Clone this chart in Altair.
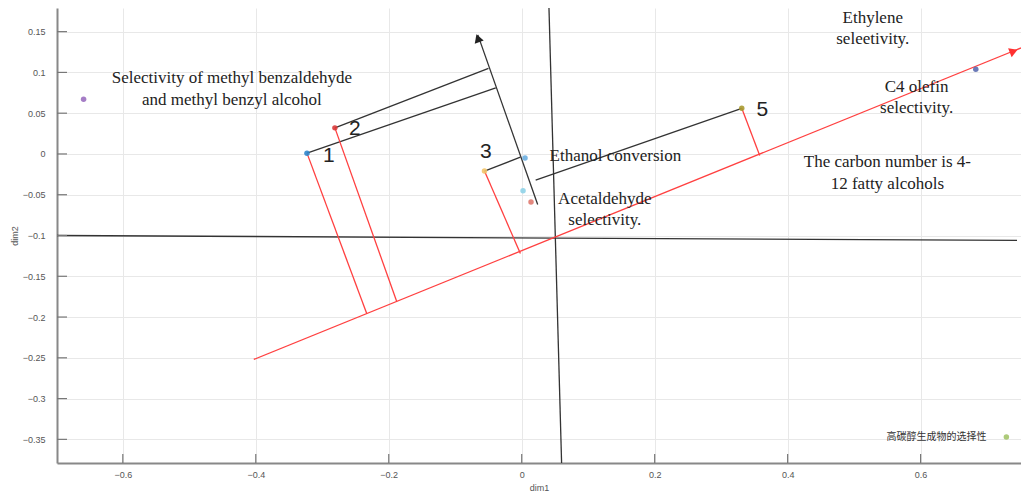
import altair as alt
import pandas as pd

# ---- scatter points (dim1, dim2) ----
pt_x = [-0.659, -0.323, -0.281, -0.056, 0.005, 0.002, 0.014, 0.331, 0.683, 0.729]
pt_y = [0.067, 0.001, 0.032, -0.021, -0.005, -0.045, -0.059, 0.056, 0.104, -0.347]
pt_color = ["#9b6fc0", "#2f86cc", "#d93a3a", "#f2c46a", "#6aaee0",
            "#8fd3e8", "#e07a70", "#a89a30", "#5b6cb0", "#a4c46a"]

# ---- black segments ----
blk_x = [-0.699, 0.041, 0.024, -0.323, -0.281, -0.056, 0.331]
blk_y = [-0.100, 0.179, -0.062, 0.001, 0.032, -0.021, 0.056]
blk_x2 = [0.745, 0.060, -0.066, -0.039, -0.050, -0.002, 0.021]
blk_y2 = [-0.106, -0.379, 0.146, 0.081, 0.105, -0.004, -0.032]

# ---- red segments ----
red_x = [-0.403, -0.323, -0.281, -0.056, 0.331]
red_y = [-0.252, 0.001, 0.032, -0.021, 0.056]
red_x2 = [0.751, -0.233, -0.188, -0.002, 0.358]
red_y2 = [0.130, -0.196, -0.181, -0.122, -0.002]

# ---- arrow heads ----
arr_x = [0.740, -0.066]
arr_y = [0.126, 0.142]
arr_angle = [68, 340]
arr_color = ["#ff3030", "#222222"]

# ---- serif annotations ----
lab_text = ["Selectivity of methyl benzaldehyde", "and methyl benzyl alcohol",
            "Ethanol conversion", "Acetaldehyde", "selectivity.",
            "Ethylene", "seleetivity.", "C4 olefin", "selectivity.",
            "The carbon number is 4-", "12 fatty alcohols"]
lab_x = [-0.436, -0.436, 0.141, 0.125, 0.125, 0.528, 0.528, 0.594, 0.594, 0.550, 0.550]
lab_y = [0.093, 0.066, -0.002, -0.055, -0.081, 0.167, 0.141, 0.082, 0.056, -0.010, -0.037]

# ---- number labels ----
num_text = ["1", "2", "3", "5"]
num_x = [-0.290, -0.251, -0.054, 0.362]
num_y = [-0.002, 0.030, 0.002, 0.054]

# ---- chinese label ----
cn_text = ["高碳醇生成物的选择性"]
cn_x = [0.624]
cn_y = [-0.347]

# ---- axis ticks ----
xticks = [-0.6, -0.4, -0.2, 0, 0.2, 0.4, 0.6]
yticks = [0.15, 0.1, 0.05, 0, -0.05, -0.1, -0.15, -0.2, -0.25, -0.3, -0.35]

XDOM = [-0.699, 0.751]
YDOM = [-0.379, 0.179]

W, H = 964, 455

xs = alt.Scale(domain=XDOM, nice=False, zero=False)
ys = alt.Scale(domain=YDOM, nice=False, zero=False)

pts = pd.DataFrame({"x": pt_x, "y": pt_y, "c": pt_color})
blk = pd.DataFrame({"x": blk_x, "y": blk_y, "x2": blk_x2, "y2": blk_y2})
red = pd.DataFrame({"x": red_x, "y": red_y, "x2": red_x2, "y2": red_y2})
arr = pd.DataFrame({"x": arr_x, "y": arr_y, "a": arr_angle, "c": arr_color})
labs = pd.DataFrame({"t": lab_text, "x": lab_x, "y": lab_y})
nums = pd.DataFrame({"t": num_text, "x": num_x, "y": num_y})
cn = pd.DataFrame({"t": cn_text, "x": cn_x, "y": cn_y})
xt = pd.DataFrame({"v": xticks})
yt = pd.DataFrame({"v": yticks})

xax = alt.Axis(values=xticks, format="~g", title="dim1", grid=True, ticks=False,
               labelPadding=7, titlePadding=4)
yax = alt.Axis(values=yticks, format="~g", title="dim2", grid=True, ticks=False,
               labelPadding=12, titlePadding=3)

base_lines = alt.Chart(blk).mark_rule(color="#333333", strokeWidth=1.3).encode(
    x=alt.X("x:Q", scale=xs, axis=xax),
    y=alt.Y("y:Q", scale=ys, axis=yax),
    x2="x2:Q", y2="y2:Q",
)

red_lines = alt.Chart(red).mark_rule(color="#ff4040", strokeWidth=1.3).encode(
    x=alt.X("x:Q", scale=xs), y=alt.Y("y:Q", scale=ys), x2="x2:Q", y2="y2:Q"
)

arrows = alt.Chart(arr).mark_point(shape="triangle-up", filled=True, opacity=1, size=90).encode(
    x=alt.X("x:Q", scale=xs), y=alt.Y("y:Q", scale=ys),
    angle=alt.Angle("a:Q", scale=None),
    color=alt.Color("c:N", scale=None),
)

points = alt.Chart(pts).mark_circle(size=30, opacity=0.9).encode(
    x=alt.X("x:Q", scale=xs), y=alt.Y("y:Q", scale=ys),
    color=alt.Color("c:N", scale=None),
)

xtk = alt.Chart(xt).mark_rule(color="#777777", strokeWidth=1.2).encode(
    x=alt.X("v:Q", scale=xs), y=alt.value(H), y2=alt.value(H - 9)
)
ytk = alt.Chart(yt).mark_rule(color="#777777", strokeWidth=1.2).encode(
    y=alt.Y("v:Q", scale=ys), x=alt.value(0), x2=alt.value(10)
)

labels = alt.Chart(labs).mark_text(font="Liberation Serif", fontSize=17, color="#222222").encode(
    x=alt.X("x:Q", scale=xs), y=alt.Y("y:Q", scale=ys), text="t:N"
)
numbers = alt.Chart(nums).mark_text(font="Liberation Sans", fontSize=21, color="#222222").encode(
    x=alt.X("x:Q", scale=xs), y=alt.Y("y:Q", scale=ys), text="t:N"
)
cnlab = alt.Chart(cn).mark_text(font="Noto Sans CJK SC", fontSize=10, color="#333333").encode(
    x=alt.X("x:Q", scale=xs), y=alt.Y("y:Q", scale=ys), text="t:N"
)

chart = alt.layer(
    base_lines, red_lines, arrows, xtk, ytk, points, labels, numbers, cnlab
).properties(
    width=W, height=H,
    autosize=alt.AutoSizeParams(type="none"),
    padding={"left": 49, "top": 0, "right": 0, "bottom": 34},
).configure_view(stroke=None).configure_axis(
    domainColor="#888888", domainWidth=2, gridColor="#e8e8e8", gridWidth=1,
    labelColor="#555555", labelFontSize=9, labelFont="Liberation Sans",
    titleColor="#555555", titleFontSize=9, titleFont="Liberation Sans", titleFontWeight="normal",
)

chart.save("out.html", embed_options={"renderer": "svg", "actions": False})
